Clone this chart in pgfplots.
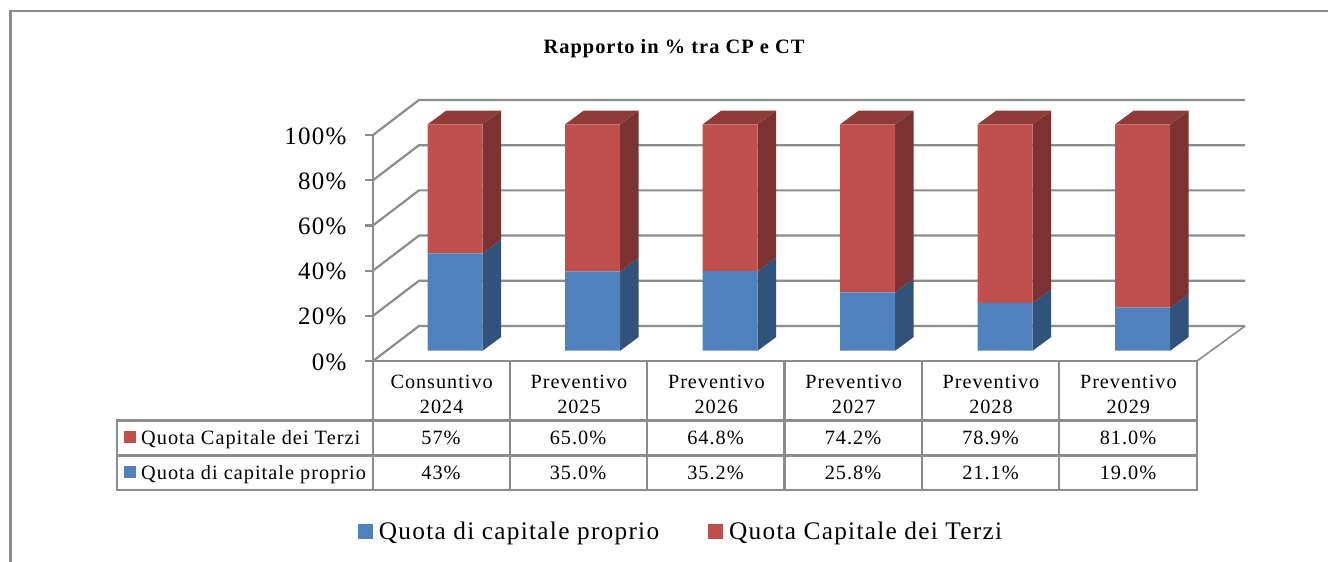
\documentclass[border=0pt]{standalone}
\usepackage{pgfplots}
\pgfplotsset{compat=1.18}
\usepackage{fontspec}
\setmainfont[LetterSpace=5]{Liberation Serif}
\definecolor{cblue}{HTML}{4F81BD}
\definecolor{cred}{HTML}{C0504D}
\definecolor{sblue}{HTML}{31527B}
\definecolor{sred}{HTML}{7C3230}
\definecolor{tred}{HTML}{8F3B39}
\definecolor{gline}{HTML}{8C8C8C}
\newcommand{\fs}[2][1.2]{\fontsize{#2}{#1\dimexpr #2pt\relax}\selectfont}
\begin{document}
\begin{tikzpicture}[x=1pt,y=-1pt]
\path[use as bounding box] (0,0) rectangle (1328,562);
% outer frame
\draw[gline,line width=2.2pt] (10.5,562) -- (10.5,11) -- (1328,11);
% title
\node[font=\fs{20.4}\bfseries,text=black] at (674,48.5) {Rapporto in \% tra CP e CT};

% walls and value axis
\begin{axis}[
  at={(373pt,-361pt)},anchor=origin,
  scale only axis,width=824pt,height=226pt,
  xmin=0,xmax=6,ymin=0,ymax=100,
  clip=false,
  axis x line=bottom,axis y line=left,
  axis line style={gline,line width=2.2pt,-},
  xtick={0.5,1.5,2.5,3.5,4.5,5.5},
  xticklabels={Consuntivo\\2024,Preventivo\\2025,Preventivo\\2026,Preventivo\\2027,Preventivo\\2028,Preventivo\\2029},
  x tick label style={align=center,font=\fs{20.2},yshift=-3pt,text=black},
  xtick style={draw=none},
  ytick={0,20,40,60,80,100},
  yticklabels={0\%,20\%,40\%,60\%,80\%,100\%},
  y tick label style={font=\fs{25},text=black},
  ytick style={gline,line width=2.2pt},
  tick align=outside,
  major tick length=8pt,
  yticklabel style={xshift=-15pt,yshift=-1pt},
]
\pgfplotsinvokeforeach{0,20,40,60,80,100}{
  \addplot[gline,line width=2.2pt,forget plot] coordinates {(0,#1) (0.335,#1+15.5) (6.35,#1+15.5)};
}
\addplot[gline,line width=1.6pt,forget plot] coordinates {(6,0) (6.35,15.5)};
\end{axis}

% 3D faces of the bars
\begin{axis}[
  at={(455.2pt,-350.7pt)},anchor=origin,
  scale only axis,width=825pt,height=226.4pt,
  xmin=-0.5,xmax=5.5,ymin=0,ymax=100,
  clip=false,hide axis,
]
\addplot[fill=sblue,draw=none] coordinates {(0.2,0)(0.3345,6.05)(0.3345,49.05)(0.2,43)} --cycle;
\addplot[fill=sblue,draw=none] coordinates {(1.2,0)(1.3345,6.05)(1.3345,41.05)(1.2,35)} --cycle;
\addplot[fill=sblue,draw=none] coordinates {(2.2,0)(2.3345,6.05)(2.3345,41.25)(2.2,35.2)} --cycle;
\addplot[fill=sblue,draw=none] coordinates {(3.2,0)(3.3345,6.05)(3.3345,31.85)(3.2,25.8)} --cycle;
\addplot[fill=sblue,draw=none] coordinates {(4.2,0)(4.3345,6.05)(4.3345,27.15)(4.2,21.1)} --cycle;
\addplot[fill=sblue,draw=none] coordinates {(5.2,0)(5.3345,6.05)(5.3345,25.05)(5.2,19)} --cycle;
\addplot[fill=sred,draw=none] coordinates {(0.2,43)(0.3345,49.05)(0.3345,106.05)(0.2,100)} --cycle;
\addplot[fill=sred,draw=none] coordinates {(1.2,35)(1.3345,41.05)(1.3345,106.05)(1.2,100)} --cycle;
\addplot[fill=sred,draw=none] coordinates {(2.2,35.2)(2.3345,41.25)(2.3345,106.05)(2.2,100)} --cycle;
\addplot[fill=sred,draw=none] coordinates {(3.2,25.8)(3.3345,31.85)(3.3345,106.05)(3.2,100)} --cycle;
\addplot[fill=sred,draw=none] coordinates {(4.2,21.1)(4.3345,27.15)(4.3345,106.05)(4.2,100)} --cycle;
\addplot[fill=sred,draw=none] coordinates {(5.2,19)(5.3345,25.05)(5.3345,106.05)(5.2,100)} --cycle;
\addplot[fill=tred,draw=none] coordinates {(-0.2,100)(0.2,100)(0.3345,106.05)(-0.0655,106.05)} --cycle;
\addplot[fill=tred,draw=none] coordinates {(0.8,100)(1.2,100)(1.3345,106.05)(0.9345,106.05)} --cycle;
\addplot[fill=tred,draw=none] coordinates {(1.8,100)(2.2,100)(2.3345,106.05)(1.9345,106.05)} --cycle;
\addplot[fill=tred,draw=none] coordinates {(2.8,100)(3.2,100)(3.3345,106.05)(2.9345,106.05)} --cycle;
\addplot[fill=tred,draw=none] coordinates {(3.8,100)(4.2,100)(4.3345,106.05)(3.9345,106.05)} --cycle;
\addplot[fill=tred,draw=none] coordinates {(4.8,100)(5.2,100)(5.3345,106.05)(4.9345,106.05)} --cycle;
\end{axis}

% front faces of the stacked bars, and the legend
\begin{axis}[
  at={(455.2pt,-350.7pt)},anchor=origin,
  scale only axis,width=825pt,height=226.4pt,
  xmin=-0.5,xmax=5.5,ymin=0,ymax=100,
  clip=false,hide axis,
  ybar stacked,bar width=55pt,
  legend columns=2,
  legend style={at={(-0.0345,-0.7964)},anchor=west,draw=none,fill=none,
    font=\fs{25.3},text=black,inner sep=0pt,outer sep=0pt,
    /tikz/every even column/.append style={column sep=47pt},
    /tikz/every odd column/.append style={column sep=4pt}},
  legend image code/.code={\fill[#1] (0pt,-7.5pt) rectangle (15pt,7.5pt);},
]
\addplot[fill=cblue,draw=none] coordinates {(0,43)(1,35)(2,35.2)(3,25.8)(4,21.1)(5,19)};
\addlegendentry{Quota di capitale proprio}
\addplot[fill=cred,draw=none] coordinates {(0,57)(1,65)(2,64.8)(3,74.2)(4,78.9)(5,81)};
\addlegendentry{Quota Capitale dei Terzi}
\end{axis}

% data table below the axis
\foreach \x in {373,510,647,784.5,922,1059,1197} \draw[gline,line width=2.2pt] (\x,361) -- (\x,490);
\draw[gline,line width=2.2pt] (117,420.5) rectangle (1197,490);
\draw[gline,line width=2.2pt] (117,455.5) -- (1197,455.5);
\fill[cred] (124,431) rectangle (136,443);
\fill[cblue] (124,466) rectangle (136,478);
\node[anchor=base west,inner sep=0pt,font=\fs{20.3}] at (141,444) {Quota Capitale dei Terzi};
\node[anchor=base west,inner sep=0pt,font=\fs{20.3}] at (141,479) {Quota di capitale proprio};
\foreach \x/\a/\b in {441/57\%/43\%,578/65.0\%/35.0\%,715.5/64.8\%/35.2\%,853/74.2\%/25.8\%,990.5/78.9\%/21.1\%,1128/81.0\%/19.0\%}{
  \node[anchor=base,inner sep=0pt,font=\fs{20.3}] at (\x,444) {\a};
  \node[anchor=base,inner sep=0pt,font=\fs{20.3}] at (\x,479) {\b};
}
\end{tikzpicture}
\end{document}
